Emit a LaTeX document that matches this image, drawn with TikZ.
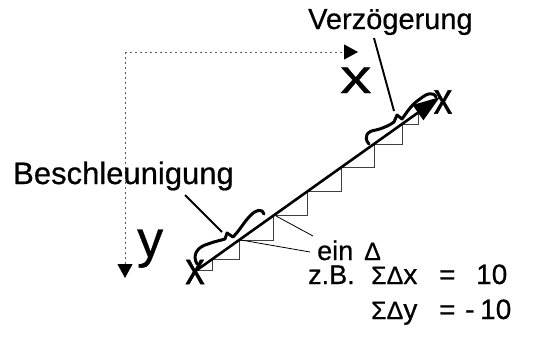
\documentclass[tikz,border=0pt]{standalone}
\usepackage{fontspec}
\setmainfont{Liberation Sans}[FakeBold=0.6]
\usetikzlibrary{arrows.meta,calc}

\newcommand{\fsz}[1]{\fontsize{#1}{#1}\selectfont}

\begin{document}
\begin{tikzpicture}[
  x=1pt,y=-1pt,
  lbl/.style={inner sep=0pt,anchor=base west},
  axis/.style={-{Triangle[length=14pt,width=15pt,black]},black!65,line width=1pt,
               dash pattern=on 2pt off 3pt},
  main/.style={-{Triangle[length=27pt,width=18pt]},line width=2.6pt},
  stair/.style={black!75,line width=0.9pt},
  brc/.style={line width=3pt,line cap=round,line join=round},
  ptr/.style={line width=1.9pt},
  thin/.style={line width=0.8pt},
]
\useasboundingbox (0,0) rectangle (539,343);

% axes
\coordinate (O) at (125,52);
\coordinate (xend) at (358,52);
\coordinate (yend) at (125,278);
\draw[axis] (O) -- (xend);
\draw[axis] (O) -- (yend);
\node[lbl,font=\fsz{48}] (xlab) at (340,93) {\scalebox{1.3}[1]{x}};
\node[lbl,font=\fsz{52}] (ylab) at (137,257) {y};

% staircase under the diagonal
\coordinate (S) at (197,270);
\coordinate (T) at (440,97);
\foreach \a/\b in {0/15,15/42,42/76,76/110,110/144,144/177,177/205,205/221}
  \draw[stair] ($(S)!{\a/243}!(T)$) -| ($(S)!{\b/243}!(T)$);
\draw[main] (S) -- (T);
\node[inner sep=0pt,font=\fsz{46}] (xa) at (195,272) {\scalebox{0.85}[1]{x}};
\node[inner sep=0pt,font=\fsz{44}] (xb) at (443,102) {\scalebox{0.85}[1]{x}};

% braces
\draw[brc] (197,264) .. controls (192,255) and (197,247) .. (208,244)
  .. controls (216,241) and (222,240) .. (225,239) -- (227,233) -- (233,237)
  .. controls (240,230) and (244,222) .. (250,216)
  .. controls (255,210) and (263,208) .. (264,214);
\draw[brc] (369,144) .. controls (363,137) and (367,131) .. (376,130)
  .. controls (384,128) and (390,125) .. (394,122) -- (397,115) -- (402,119)
  .. controls (407,112) and (412,104) .. (420,99)
  .. controls (426,94) and (433,91) .. (436,97);

% labels
\node[lbl,font=\fsz{29}] (vz) at (308,29) {Verzögerung};
\node[lbl,font=\fsz{31}] (bs) at (13,184) {Beschleunigung};
\node[lbl,font=\fsz{27}] (ein) at (317,260) {ein\hspace{11pt}{\fsz{25}Δ}};
\node[lbl,font=\fsz{27}] (zb) at (308,284) {z.B.};
\node[lbl,font=\fsz{28}] (sx) at (371,284)
  {\makebox[68pt][l]{{\fsz{25}ΣΔ}x}\makebox[37pt][l]{=}10};
\node[lbl,font=\fsz{28}] (sy) at (371,319)
  {\makebox[68pt][l]{{\fsz{25}ΣΔ}y}\makebox[26pt][l]{=}\makebox[15pt][l]{-}10};

% pointers
\coordinate (vzfoot) at (374,38);
\coordinate (vztip) at (394,111);
\coordinate (bsfoot) at (185,195);
\coordinate (bstip) at (222,232);
\draw[ptr] (vzfoot) -- (vztip);
\draw[ptr] (bsfoot) -- (bstip);
\coordinate (stepa) at (276,216);
\coordinate (stepb) at (241,240);
\coordinate (eina) at (313,236);
\coordinate (einb) at (310,252);
\draw[thin] (stepa) -- (eina);
\draw[thin] (stepb) -- (einb);

\end{tikzpicture}
\end{document}
